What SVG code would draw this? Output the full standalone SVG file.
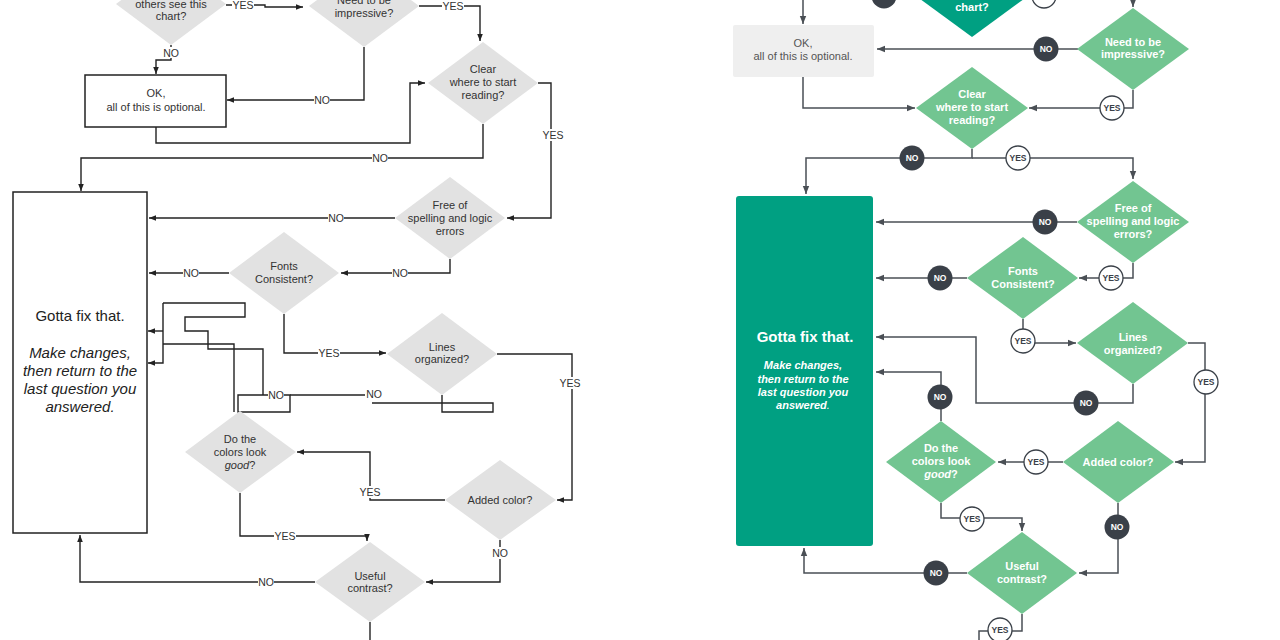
<svg xmlns="http://www.w3.org/2000/svg" width="1280" height="640" viewBox="0 0 1280 640">
<style>
.bg{fill:#ffffff}
.ld{fill:#e2e2e2}
.lt{font-family:"Liberation Sans",Arial,sans-serif;font-size:11px;fill:#333;text-anchor:middle}
.lbox{fill:#fff;stroke:#222;stroke-width:1.5}
.lc{fill:none;stroke:#222;stroke-width:1.4}
.lb{fill:#fff}
.ll{font-family:"Liberation Sans",Arial,sans-serif;font-size:10.5px;fill:#333;text-anchor:middle}
.big{font-family:"Liberation Sans",Arial,sans-serif;font-size:15px;fill:#222;text-anchor:middle}
.rd{fill:#72c591}
.rdk{fill:#00a082}
.rt{font-family:"Liberation Sans",Arial,sans-serif;font-size:11px;font-weight:bold;fill:#fff;text-anchor:middle}
.rc{fill:none;stroke:#4a4f55;stroke-width:1.5}
.no{fill:#3a4048}
.yes{fill:#fff;stroke:#3a4048;stroke-width:1.3}
.nt{font-family:"Liberation Sans",Arial,sans-serif;font-size:8.5px;font-weight:bold;fill:#fff;text-anchor:middle}
.yt{font-family:"Liberation Sans",Arial,sans-serif;font-size:8.5px;font-weight:bold;fill:#3a4048;text-anchor:middle}
</style>
<defs>
<marker id="al" viewBox="0 0 10 10" refX="10" refY="5" markerWidth="7" markerHeight="7" markerUnits="userSpaceOnUse" orient="auto"><path d="M0,1 L10,5 L0,9 z" fill="#222"/></marker>
<marker id="ar" viewBox="0 0 10 10" refX="10" refY="5" markerWidth="8" markerHeight="8" markerUnits="userSpaceOnUse" orient="auto"><path d="M0,1 L10,5 L0,9 z" fill="#4a4f55"/></marker>
</defs>
<rect class="bg" x="0" y="0" width="1280" height="640"/>

<!-- LEFT connectors -->
<g id="left-connectors">
<path class="lc" d="M226,5 H265 V7 H303" marker-end="url(#al)"/>
<path class="lc" d="M419,6 H480 V41" marker-end="url(#al)"/>
<path class="lc" d="M171,45 V60 H156 V74" marker-end="url(#al)"/>
<path class="lc" d="M364,47 V100 H227" marker-end="url(#al)"/>
<path class="lc" d="M156,127 V143 H410 V83 H425" marker-end="url(#al)"/>
<path class="lc" d="M483,124 V158 H81 V191" marker-end="url(#al)"/>
<path class="lc" d="M538,83 H551 V218 H507" marker-end="url(#al)"/>
<path class="lc" d="M395,218 H149" marker-end="url(#al)"/>
<path class="lc" d="M450,259 V273 H341" marker-end="url(#al)"/>
<path class="lc" d="M229,273 H149" marker-end="url(#al)"/>
<path class="lc" d="M284,314 V353 H386" marker-end="url(#al)"/>
<path class="lc" d="M497,354 H572 V500 H557" marker-end="url(#al)"/>
<path class="lc" d="M445,500 H370 V452 H297" marker-end="url(#al)"/>
<path class="lc" d="M240,493 V536 H367 V541" marker-end="url(#al)"/>
<path class="lc" d="M500,540 V582 H426" marker-end="url(#al)"/>
<path class="lc" d="M315,582 H80 V535" marker-end="url(#al)"/>
<path class="lc" d="M370,622 V640"/>
<path class="lc" d="M163,331 H148" marker-end="url(#al)"/>
<path class="lc" d="M163,303 V363 H148" marker-end="url(#al)"/>
<path class="lc" d="M163,303 H245 V317 H185 V331 H208 V349 H263 V395 H238 V412 H290 V395 H263"/>
<path class="lc" d="M163,344 H234 V412"/>
<path class="lc" d="M290,395 H365"/>
<path class="lc" d="M442,395 V412 H493 V403 H372"/>
<rect class="lb" x="232" y="0" width="22" height="11"/><text class="ll" x="243" y="9">YES</text>
<rect class="lb" x="442" y="1" width="22" height="11"/><text class="ll" x="453" y="10">YES</text>
<rect class="lb" x="163" y="47" width="16" height="11"/><text class="ll" x="171" y="57">NO</text>
<rect class="lb" x="314" y="94" width="16" height="11"/><text class="ll" x="322" y="104">NO</text>
<rect class="lb" x="372" y="152" width="16" height="11"/><text class="ll" x="380" y="162">NO</text>
<rect class="lb" x="542" y="129" width="22" height="12"/><text class="ll" x="553" y="139">YES</text>
<rect class="lb" x="328" y="212" width="16" height="11"/><text class="ll" x="336" y="222">NO</text>
<rect class="lb" x="392" y="267" width="16" height="11"/><text class="ll" x="400" y="277">NO</text>
<rect class="lb" x="183" y="267" width="16" height="11"/><text class="ll" x="191" y="277">NO</text>
<rect class="lb" x="318" y="347" width="22" height="11"/><text class="ll" x="329" y="357">YES</text>
<rect class="lb" x="559" y="377" width="22" height="12"/><text class="ll" x="570" y="387">YES</text>
<rect class="lb" x="359" y="486" width="22" height="12"/><text class="ll" x="370" y="496">YES</text>
<rect class="lb" x="274" y="530" width="22" height="11"/><text class="ll" x="285" y="540">YES</text>
<rect class="lb" x="492" y="547" width="16" height="12"/><text class="ll" x="500" y="557">NO</text>
<rect class="lb" x="258" y="576" width="16" height="11"/><text class="ll" x="266" y="586">NO</text>
<rect class="lb" x="268" y="389" width="16" height="11"/><text class="ll" x="276" y="399">NO</text>
<rect class="lb" x="366" y="388" width="16" height="11"/><text class="ll" x="374" y="398">NO</text>
</g>

<!-- LEFT nodes -->
<g id="l-others">
<polygon class="ld" points="171,-37 226,4 171,45 116,4"/>
<text class="lt" x="171" y="8">others see this</text>
<text class="lt" x="171" y="20">chart?</text>
</g>
<g id="l-impressive">
<polygon class="ld" points="364,-35 419,6 364,47 309,6"/>
<text class="lt" x="364" y="4">Need to be</text>
<text class="lt" x="364" y="17">impressive?</text>
</g>
<g id="l-optional">
<rect class="lbox" x="85" y="75" width="141" height="52"/>
<text class="lt" x="156" y="97">OK,</text>
<text class="lt" x="156" y="111">all of this is optional.</text>
</g>
<g id="l-clear">
<polygon class="ld" points="483,42 538,83 483,124 428,83"/>
<text class="lt" x="483" y="73">Clear</text>
<text class="lt" x="483" y="86">where to start</text>
<text class="lt" x="483" y="99">reading?</text>
</g>
<g id="l-fix">
<rect class="lbox" x="13" y="192" width="134" height="341"/>
<text class="big" x="80" y="321">Gotta fix that.</text>
<text class="big" x="80" y="358" font-style="italic">Make changes,</text>
<text class="big" x="80" y="376" font-style="italic">then return to the</text>
<text class="big" x="80" y="394" font-style="italic">last question you</text>
<text class="big" x="80" y="412" font-style="italic">answered.</text>
</g>
<g id="l-free">
<polygon class="ld" points="450,177 505,218 450,259 395,218"/>
<text class="lt" x="450" y="209">Free of</text>
<text class="lt" x="450" y="222">spelling and logic</text>
<text class="lt" x="450" y="235">errors</text>
</g>
<g id="l-fonts">
<polygon class="ld" points="284,232 339,273 284,314 229,273"/>
<text class="lt" x="284" y="270">Fonts</text>
<text class="lt" x="284" y="283">Consistent?</text>
</g>
<g id="l-lines">
<polygon class="ld" points="442,313 497,354 442,395 387,354"/>
<text class="lt" x="442" y="351">Lines</text>
<text class="lt" x="442" y="363">organized?</text>
</g>
<g id="l-colors">
<polygon class="ld" points="240,411 296,452 240,493 185,452"/>
<text class="lt" x="240" y="443">Do the</text>
<text class="lt" x="240" y="456">colors look</text>
<text class="lt" x="240" y="469"><tspan font-style="italic">good</tspan>?</text>
</g>
<g id="l-added">
<polygon class="ld" points="500,460 556,500 500,540 445,500"/>
<text class="lt" x="500" y="504">Added color?</text>
</g>
<g id="l-contrast">
<polygon class="ld" points="370,542 425,582 370,622 315,582"/>
<text class="lt" x="370" y="580">Useful</text>
<text class="lt" x="370" y="592">contrast?</text>
</g>

<!-- RIGHT connectors -->
<g id="right-connectors">
<path class="rc" d="M916,-4 H803 V24" marker-end="url(#ar)"/>
<path class="rc" d="M1028,-4 H1133 V7" marker-end="url(#ar)"/>
<path class="rc" d="M1078,49 H877" marker-end="url(#ar)"/>
<path class="rc" d="M1133,90 V108 H1029" marker-end="url(#ar)"/>
<path class="rc" d="M803,77 V108 H915" marker-end="url(#ar)"/>
<path class="rc" d="M972,149 V158 H806 V194" marker-end="url(#ar)"/>
<path class="rc" d="M972,158 H1133 V179" marker-end="url(#ar)"/>
<path class="rc" d="M1077,222 H876" marker-end="url(#ar)"/>
<path class="rc" d="M1133,263 V278 H1079" marker-end="url(#ar)"/>
<path class="rc" d="M967,278 H876" marker-end="url(#ar)"/>
<path class="rc" d="M1023,319 V343 H1076" marker-end="url(#ar)"/>
<path class="rc" d="M1188,343 H1205 V462 H1175" marker-end="url(#ar)"/>
<path class="rc" d="M1133,384 V403 H976 V337 H876" marker-end="url(#ar)"/>
<path class="rc" d="M941,421 V372 H876" marker-end="url(#ar)"/>
<path class="rc" d="M1063,462 H998" marker-end="url(#ar)"/>
<path class="rc" d="M1118,503 V573 H1079" marker-end="url(#ar)"/>
<path class="rc" d="M941,503 V518 H1022 V531" marker-end="url(#ar)"/>
<path class="rc" d="M967,573 H804 V548" marker-end="url(#ar)"/>
<path class="rc" d="M1022,614 V631 H979 V640"/>
<circle class="no" cx="884" cy="-4" r="12.5"/>
<circle class="yes" cx="1044" cy="-4" r="12"/>
<circle class="no" cx="1046" cy="49" r="12.5"/><text class="nt" x="1046" y="52">NO</text>
<circle class="yes" cx="1112" cy="108" r="12"/><text class="yt" x="1112" y="111">YES</text>
<circle class="no" cx="912" cy="158" r="12.5"/><text class="nt" x="912" y="161">NO</text>
<circle class="yes" cx="1018" cy="158" r="12"/><text class="yt" x="1018" y="161">YES</text>
<circle class="no" cx="1045" cy="222" r="12.5"/><text class="nt" x="1045" y="225">NO</text>
<circle class="yes" cx="1111" cy="278" r="12"/><text class="yt" x="1111" y="281">YES</text>
<circle class="no" cx="940" cy="278" r="12.5"/><text class="nt" x="940" y="281">NO</text>
<circle class="yes" cx="1023" cy="341" r="12"/><text class="yt" x="1023" y="344">YES</text>
<circle class="yes" cx="1206" cy="382" r="12"/><text class="yt" x="1206" y="385">YES</text>
<circle class="no" cx="1086" cy="403" r="12.5"/><text class="nt" x="1086" y="406">NO</text>
<circle class="no" cx="940" cy="397" r="12.5"/><text class="nt" x="940" y="400">NO</text>
<circle class="yes" cx="1036" cy="462" r="12"/><text class="yt" x="1036" y="465">YES</text>
<circle class="no" cx="1117" cy="527" r="12.5"/><text class="nt" x="1117" y="530">NO</text>
<circle class="yes" cx="972" cy="519" r="12"/><text class="yt" x="972" y="522">YES</text>
<circle class="no" cx="936" cy="573" r="12.5"/><text class="nt" x="936" y="576">NO</text>
<circle class="yes" cx="1000" cy="630" r="12"/><text class="yt" x="1000" y="633">YES</text>
</g>

<!-- RIGHT nodes -->
<g id="r-others">
<polygon class="rdk" points="972,-45 1028,-4 972,37 916,-4"/>
<text class="rt" x="972" y="11">chart?</text>
</g>
<g id="r-optional">
<rect x="733" y="25" width="141" height="52" rx="2" fill="#efefef"/>
<text x="803" y="47" font-family="Liberation Sans, Arial, sans-serif" font-size="11" fill="#555" text-anchor="middle">OK,</text>
<text x="803" y="60" font-family="Liberation Sans, Arial, sans-serif" font-size="11" fill="#555" text-anchor="middle">all of this is optional.</text>
</g>
<g id="r-impressive">
<polygon class="rd" points="1133,8 1189,49 1133,90 1077,49"/>
<text class="rt" x="1133" y="46">Need to be</text>
<text class="rt" x="1133" y="58">impressive?</text>
</g>
<g id="r-clear">
<polygon class="rd" points="972,67 1028,108 972,149 916,108"/>
<text class="rt" x="972" y="98">Clear</text>
<text class="rt" x="972" y="111">where to start</text>
<text class="rt" x="972" y="124">reading?</text>
</g>
<g id="r-fix">
<rect x="736" y="196" width="137" height="350" rx="3" fill="#00a082"/>
<text x="805" y="342" font-family="Liberation Sans, Arial, sans-serif" font-size="15" font-weight="bold" fill="#fff" text-anchor="middle">Gotta fix that.</text>
<text class="rt" x="803" y="369" font-style="italic">Make changes,</text>
<text class="rt" x="803" y="383" font-style="italic">then return to the</text>
<text class="rt" x="803" y="396" font-style="italic">last question you</text>
<text class="rt" x="803" y="409" font-style="italic">answered<tspan font-weight="normal">.</tspan></text>
</g>
<g id="r-free">
<polygon class="rd" points="1133,181 1189,222 1133,263 1077,222"/>
<text class="rt" x="1133" y="212">Free of</text>
<text class="rt" x="1133" y="225">spelling and logic</text>
<text class="rt" x="1133" y="238">errors?</text>
</g>
<g id="r-fonts">
<polygon class="rd" points="1023,237 1078,278 1023,319 967,278"/>
<text class="rt" x="1023" y="275">Fonts</text>
<text class="rt" x="1023" y="288">Consistent?</text>
</g>
<g id="r-lines">
<polygon class="rd" points="1133,302 1188,343 1133,384 1077,343"/>
<text class="rt" x="1133" y="341">Lines</text>
<text class="rt" x="1133" y="354">organized?</text>
</g>
<g id="r-colors">
<polygon class="rd" points="941,421 996,462 941,503 886,462"/>
<text class="rt" x="941" y="452">Do the</text>
<text class="rt" x="941" y="465">colors look</text>
<text class="rt" x="941" y="478"><tspan font-style="italic">good</tspan>?</text>
</g>
<g id="r-added">
<polygon class="rd" points="1118,421 1174,462 1118,503 1063,462"/>
<text class="rt" x="1118" y="466">Added color?</text>
</g>
<g id="r-contrast">
<polygon class="rd" points="1022,532 1077,573 1022,614 967,573"/>
<text class="rt" x="1022" y="570">Useful</text>
<text class="rt" x="1022" y="583">contrast?</text>
</g>
</svg>
